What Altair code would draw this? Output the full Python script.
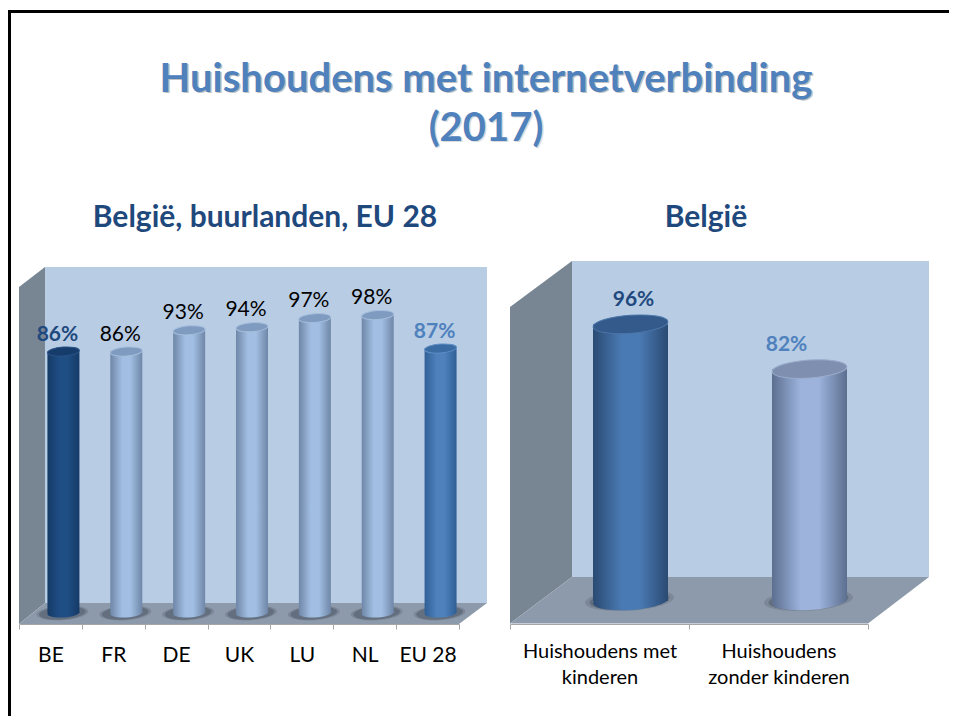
import altair as alt
import pandas as pd

# ---------- data ----------
countries = ["BE", "FR", "DE", "UK", "LU", "NL", "EU 28"]
country_values = [86, 86, 93, 94, 97, 98, 87]
households = ["Huishoudens met kinderen", "Huishoudens zonder kinderen"]
household_values = [96, 82]
title_lines = ["Huishoudens met internetverbinding", "(2017)"]
left_title = "België, buurlanden, EU 28"
right_title = "België"

FONT = "Lato"
OX, OY = 8, 8  # page margin
W, H = 941, 708


def px(v):
    return v - OX


def py(v):
    return v - OY


def grad(edge, mid):
    return alt.Gradient(
        gradient="linear", x1=0, x2=1, y1=0, y2=0,
        stops=[
            alt.GradientStop(offset=0, color=edge),
            alt.GradientStop(offset=0.38, color=mid),
            alt.GradientStop(offset=0.62, color=mid),
            alt.GradientStop(offset=1, color=edge),
        ],
    )


ELLIPSE_L = "M -1 0 A 1 0.28 0 1 1 1 0 A 1 0.28 0 1 1 -1 0 Z"
ELLIPSE_R = "M -1 0 A 1 0.24 0 1 1 1 0 A 1 0.24 0 1 1 -1 0 Z"

# ---------- scales ----------
L0, L_SLOPE = 613, 3.04
R0, R_SLOPE = 631.5, 3.2
R_BASE = (R0 - 601) / R_SLOPE

lx = dict(type="band", domain=countries, range=[px(19), px(459)], paddingInner=0, paddingOuter=0)
ly = dict(domain=[0, 100], range=[py(L0), py(L0 - 100 * L_SLOPE)], nice=False, zero=False)
rx = dict(type="band", domain=households, range=[px(510), px(868)], paddingInner=0, paddingOuter=0)
ry = dict(domain=[0, 100], range=[py(R0), py(R0 - 100 * R_SLOPE)], nice=False, zero=False)
lfx = dict(domain=[0, 7], range=[px(19), px(459)], nice=False, zero=False)
rfx = dict(domain=[0, 2], range=[px(510), px(868)], nice=False, zero=False)


def frame(points, xs, ys, color):
    df = pd.DataFrame(points, columns=["x", "y", "y2"])
    return alt.Chart(df).mark_area(color=color, orient="vertical", opacity=1).encode(
        x=alt.X("x:Q", scale=alt.Scale(**xs), axis=None),
        y=alt.Y("y:Q", scale=alt.Scale(**ys), axis=None),
        y2="y2:Q",
    )


def frames(xs, ys, xb, xe, xo, top, sidetop, back, front):
    return [
        frame([(xb, top, back), (xe, top, back)], xs, ys, "#b8cce4"),
        frame([(0, sidetop, front), (xb, top, back)], xs, ys, "#788593"),
        frame([(0, front, front), (xb, back, front), (xo, back, front), (xe, back, back)], xs, ys, "#8d9aab"),
    ]


def cyl(cats, vals, base_val, xs, ys, width, off, shape, edge, mid, top, rim, shadow, sh_dy):
    df = pd.DataFrame({"c": cats, "v": vals, "b": [base_val] * len(cats)})
    x = alt.X("c:N", scale=alt.Scale(**xs), axis=None)
    yb = alt.Y("b:Q", scale=alt.Scale(**ys), axis=None)
    yv = alt.Y("v:Q", scale=alt.Scale(**ys), axis=None)
    base = alt.Chart(df)
    sh1 = base.mark_point(shape=shape, filled=True, size=shadow ** 2, color="#3f4a58", opacity=0.22, angle=356,
                          xOffset=off - 1, yOffset=sh_dy).encode(x=x, y=yb)
    sh2 = base.mark_point(shape=shape, filled=True, size=(shadow * 0.9) ** 2, color="#3f4a58", opacity=0.4, angle=356,
                          xOffset=off - 1, yOffset=sh_dy).encode(x=x, y=yb)
    bot = base.mark_point(shape=shape, filled=True, size=width ** 2, opacity=1, color=grad(edge, mid), angle=356,
                          xOffset=off).encode(x=x, y=yb)
    bar = base.mark_bar(width=width, color=grad(edge, mid), xOffset=off).encode(x=x, y=yv, y2="b:Q")
    tp = base.mark_point(shape=shape, filled=True, size=width ** 2, opacity=1, color=top, stroke=rim, strokeWidth=1,
                         angle=356, xOffset=off).encode(x=x, y=yv)
    return [sh1, sh2, bot, bar, tp]


def labels(cats, vals, xs, ys, dx, dy, size, color, weight="normal"):
    df = pd.DataFrame({"c": cats, "v": vals})
    return alt.Chart(df).transform_calculate(t="datum.v + '%'").mark_text(
        font=FONT, fontSize=size, color=color, fontWeight=weight, dx=dx, dy=dy, baseline="middle"
    ).encode(
        x=alt.X("c:N", scale=alt.Scale(**xs), axis=None),
        y=alt.Y("v:Q", scale=alt.Scale(**ys), axis=None),
        text="t:N",
    )


def axis_layer(cats, vals, xs, ys, size, pad, expr=None):
    df = pd.DataFrame({"c": cats, "v": vals})
    kw = dict(labelExpr=expr) if expr else {}
    return alt.Chart(df).mark_bar(opacity=0).encode(
        x=alt.X("c:N", scale=alt.Scale(**xs), axis=alt.Axis(
            title=None, orient="bottom", offset=-(H - py(624)), tickBand="extent", labelAngle=0,
            labelFont=FONT, labelFontSize=size, labelColor="#000000", labelPadding=pad,
            domainColor="#a6a6a6", tickColor="#a6a6a6", tickSize=5, grid=False, zindex=1,
            labelLineHeight=26, **kw)),
        y=alt.Y("v:Q", scale=alt.Scale(**ys), axis=None),
    )


def fixed_text(txt, x, y, size, color, weight="bold", opacity=1.0):
    df = pd.DataFrame({"t": [txt]})
    return alt.Chart(df).mark_text(font=FONT, fontSize=size, color=color, fontWeight=weight,
                                   align="center", baseline="middle", opacity=opacity).encode(
        x=alt.value(px(x)), y=alt.value(py(y)), text="t:N")


layers = []

# border
bdf = pd.DataFrame({"k": [1]})
layers.append(alt.Chart(bdf).mark_rule(color="#000000", strokeWidth=3).encode(
    x=alt.value(1.5), y=alt.value(py(10)), y2=alt.value(H)))
layers.append(alt.Chart(bdf).mark_rule(color="#000000", strokeWidth=3).encode(
    x=alt.value(0), x2=alt.value(W), y=alt.value(py(11.5))))

# titles
layers += [
    fixed_text(title_lines[0], 487.5, 81, 40, "#9a9a9a", opacity=0.6),
    fixed_text(title_lines[1], 487.5, 130, 40, "#9a9a9a", opacity=0.35),
    fixed_text(title_lines[0], 486, 79.5, 40, "#4f81bd"),
    fixed_text(title_lines[1], 486, 128.5, 40, "#4f81bd"),
    fixed_text(left_title, 265, 218, 30, "#1f497d"),
    fixed_text(right_title, 706, 218, 30, "#1f497d"),
]

# frames


def lv(y):
    return (L0 - y) / L_SLOPE


def rv(y):
    return (R0 - y) / R_SLOPE


layers += frames(lfx, ly, 26 / 62.86, 7 + 28 / 62.86, 7, lv(267), lv(287), lv(603), lv(624))
layers += frames(rfx, ry, 62 / 179, 2 + 61 / 179, 2, rv(261), rv(307), rv(577), rv(623.5))

# axes
layers.append(axis_layer(countries, country_values, lx, ly, 21, 15))
layers.append(axis_layer(
    households, household_values, rx, ry, 20, 12,
    "datum.label == 'Huishoudens met kinderen' ? ['Huishoudens met', 'kinderen'] : "
    "datum.label == 'Huishoudens zonder kinderen' ? ['Huishoudens', 'zonder kinderen'] : ''"))

# left cylinders
layers += cyl(countries[:1], country_values[:1], 0, lx, ly, 32, 13, ELLIPSE_L, "#153a66", "#1f4e85", "#153c6a", "#2a5488", 52, 0)
layers += cyl(countries[1:6], country_values[1:6], 0, lx, ly, 32, 13, ELLIPSE_L, "#6f87a8", "#a2bfe3", "#7f9bbf", "#a5bedd", 52, 0)
layers += cyl(countries[6:], country_values[6:], 0, lx, ly, 32, 13, ELLIPSE_L, "#2f5f95", "#4f81bd", "#3a6ba3", "#5f8fc6", 52, 0)

# right cylinders
layers += cyl(households[:1], household_values[:1], R_BASE, rx, ry, 75, 31, ELLIPSE_R, "#2a4a72", "#4a7ab3", "#335a8a", "#4a75a8", 89, -1)
layers += cyl(households[1:], household_values[1:], R_BASE, rx, ry, 75, 31, ELLIPSE_R, "#5c6f90", "#9db3dc", "#7f8fb0", "#9aaccc", 89, -1)

# value labels
layers.append(labels(countries[:1], country_values[:1], lx, ly, 7, -17, 21, "#1f497d", "bold"))
layers.append(labels(countries[1:6], country_values[1:6], lx, ly, 7, -17, 21, "#000000"))
layers.append(labels(countries[6:], country_values[6:], lx, ly, 7, -17, 21, "#4f81bd", "bold"))
layers.append(labels(households[:1], household_values[:1], rx, ry, 34, -24, 21, "#1f497d", "bold"))
layers.append(labels(households[1:], household_values[1:], rx, ry, 8, -24, 21, "#4f81bd", "bold"))

chart = alt.layer(*layers).resolve_scale(x="independent", y="independent").properties(
    width=W, height=H, padding=0, autosize=alt.AutoSizeParams(type="none"),
    background="#ffffff",
).configure_view(stroke=None)

chart.save("out.html", embed_options={"renderer": "svg", "actions": False})
